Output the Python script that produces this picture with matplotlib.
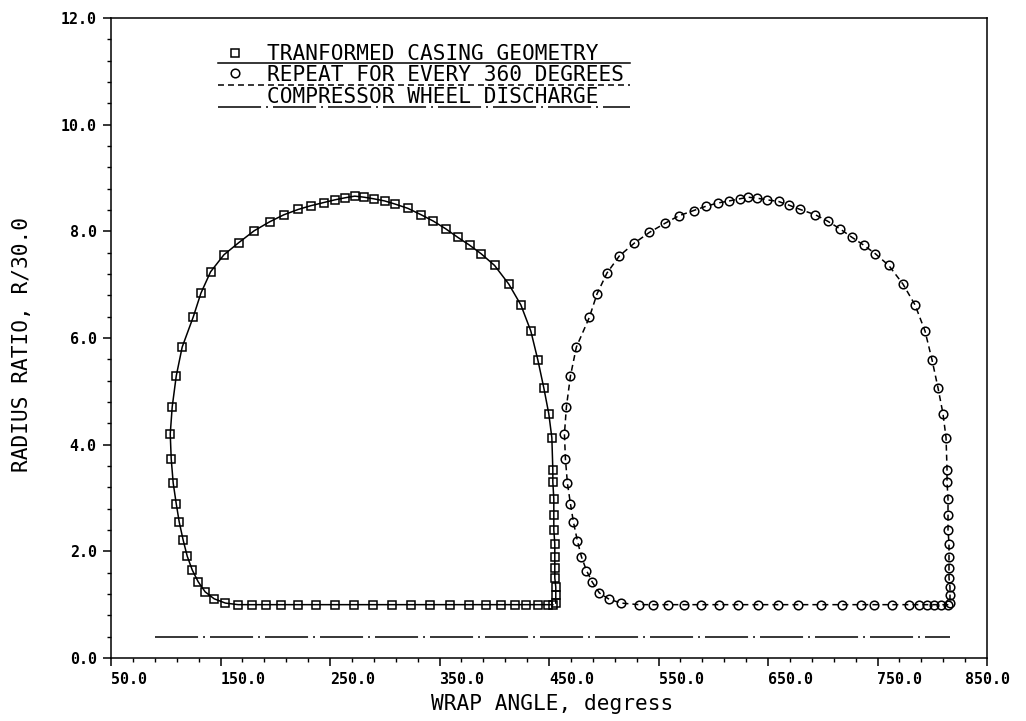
import matplotlib
matplotlib.use("Agg")
import matplotlib.pyplot as plt
from matplotlib.ticker import MultipleLocator, FormatStrFormatter, FixedLocator

plt.rcParams['lines.scale_dashes'] = False

# ---- data: transformed casing geometry (squares) ----
sq_x = [453.5, 448.9, 439.8, 428.8, 418.5, 406.1, 392.4, 376.6, 359.2, 341.0,
        323.9, 306.6, 289.3, 271.9, 254.6, 237.3, 220.8, 205.3, 191.7, 178.9, 166.1,
        154.4, 144.2, 136.0, 129.6, 124.2, 119.6, 115.9, 112.3, 109.6, 106.8,
        105.0, 104.1, 105.9, 109.6, 115.0,
        125.2, 132.1, 140.9, 153.1, 166.8, 180.7, 195.0, 207.8, 220.9, 232.4,
        244.3, 254.3, 264.0, 272.6, 281.1, 289.9, 299.9, 309.6, 321.2, 333.3,
        344.5, 355.5, 366.5, 377.5, 388.0, 400.3, 413.3, 424.3, 433.4, 439.8,
        445.3, 449.8, 452.6, 453.5, 453.5, 454.4, 454.4, 454.4, 455.3, 455.3,
        455.3, 455.3, 456.2, 456.2, 456.2]
sq_y = [1.0] * 21 + [
        1.03, 1.11, 1.24, 1.43, 1.65, 1.91, 2.21, 2.55, 2.89, 3.28,
        3.73, 4.20, 4.71, 5.29, 5.83,
        6.40, 6.84, 7.24, 7.56, 7.79, 8.01, 8.18, 8.31, 8.41, 8.48,
        8.54, 8.59, 8.63, 8.66, 8.64, 8.61, 8.57, 8.51, 8.43, 8.31,
        8.19, 8.05, 7.89, 7.74, 7.58, 7.36, 7.01, 6.62, 6.13, 5.59,
        5.06, 4.58, 4.13, 3.53, 3.30, 2.98, 2.68, 2.40, 2.14, 1.89,
        1.69, 1.50, 1.33, 1.18, 1.03]

# ---- data: repeat for every 360 degrees (circles) ----
ci_x = [814.7, 808.3, 801.9, 795.5, 787.9, 778.8, 763.6, 746.9, 734.7, 718.0,
        698.2, 677.6, 658.9, 640.5, 622.5, 605.0, 588.5, 573.0, 558.5, 545.0, 532.0,
        516.0, 505.0, 496.0, 489.6, 484.2, 479.6, 475.9, 472.3, 469.6, 466.8,
        465.0, 464.1, 465.9, 469.6, 475.0,
        486.9, 493.9, 503.0, 514.3, 528.0, 541.7, 555.9, 568.4, 582.1, 593.3,
        603.9, 614.6, 624.3, 631.9, 640.4, 649.5, 659.6, 669.3, 679.4, 693.3,
        704.5, 715.5, 726.5, 737.5, 748.0, 760.3, 773.3, 784.3, 793.4, 799.8,
        805.3, 809.8, 812.6, 813.5, 813.5, 814.4, 814.4, 814.4, 815.3, 815.3,
        815.3, 815.3, 816.2, 816.2, 816.2]
ci_y = [1.0] * 21 + [
        1.03, 1.10, 1.22, 1.42, 1.64, 1.90, 2.20, 2.55, 2.89, 3.28,
        3.73, 4.20, 4.71, 5.29, 5.83,
        6.39, 6.83, 7.22, 7.54, 7.78, 7.98, 8.15, 8.29, 8.39, 8.47,
        8.53, 8.57, 8.61, 8.64, 8.62, 8.59, 8.56, 8.49, 8.41, 8.31,
        8.19, 8.05, 7.89, 7.74, 7.58, 7.36, 7.01, 6.62, 6.13, 5.59,
        5.06, 4.58, 4.13, 3.53, 3.30, 2.98, 2.68, 2.40, 2.14, 1.89,
        1.69, 1.50, 1.33, 1.18, 1.03]

# ---- data: compressor wheel discharge ----
cw_x = [90.0, 816.0]
cw_y = [0.4, 0.4]

x_ticks = [50, 150, 250, 350, 450, 550, 650, 750, 850]
y_ticks = [0, 2, 4, 6, 8, 10, 12]

legend_labels = ["TRANFORMED CASING GEOMETRY",
                 "REPEAT FOR EVERY 360 DEGREES",
                 "COMPRESSOR WHEEL DISCHARGE"]

FONT = "DejaVu Sans Mono"
DASHED = (0, (4.3, 2.9))
DASHDOT = (0, (31.0, 3.6, 1.4, 3.6))

fig = plt.figure(figsize=(10.26, 7.21), dpi=100)
ax = fig.add_axes([111/1026, 1 - 658/721, 876/1026, 640/721])

lw = 1.1
ax.plot(sq_x, sq_y, color='black', lw=lw, ls='-', marker='s', ms=6.2,
        mfc='none', mec='black', mew=1.1)
ax.plot(ci_x, ci_y, color='black', lw=lw, ls=DASHED, marker='o', ms=6.2,
        mfc='none', mec='black', mew=1.1)
ax.plot(cw_x, cw_y, color='black', lw=lw, ls=DASHDOT)

ax.set_xlim(50, 850)
ax.set_ylim(0, 12)
ax.xaxis.set_major_locator(FixedLocator(x_ticks))
ax.xaxis.set_minor_locator(MultipleLocator(20, offset=10))
ax.yaxis.set_major_locator(FixedLocator(y_ticks))
ax.yaxis.set_minor_locator(MultipleLocator(0.4))
ax.xaxis.set_major_formatter(FormatStrFormatter('%.1f'))
ax.yaxis.set_major_formatter(FormatStrFormatter('%.1f'))
ax.tick_params(which='major', direction='out', length=5.8, width=1.1,
               labelsize=10.8, pad=4.5)
ax.tick_params(which='minor', direction='out', length=3.2, width=1.0)
ax.tick_params(axis='x', which='both', top=False)
ax.tick_params(axis='y', which='both', right=False)
for sp in ax.spines.values():
    sp.set_linewidth(1.1)
for lab in ax.get_xticklabels() + ax.get_yticklabels():
    lab.set_fontfamily(FONT)
    lab.set_fontweight('bold')
xl = ax.get_xticklabels()
for lab in xl:
    lab.set_ha('left')
xl[-1].set_ha('center')

fig.text(552/1026, 1 - 710/721, "WRAP ANGLE, degress", family=FONT,
         fontsize=15.2, ha='center', va='baseline')
fig.text(22/1026, 1 - 345/721, "RADIUS RATIO, R/30.0", family=FONT,
         fontsize=15.2, ha='center', va='center', rotation=90)

# ---- legend drawn as in the original plotter output ----
def fx(px):
    return (px - 111) / 876

def fy(py):
    return (658 - py) / 640

T = ax.transAxes
ax.plot([fx(235)], [fy(52.7)], transform=T, marker='s', ms=6.2, mfc='none',
        mec='black', mew=1.1, ls='none')
ax.plot([fx(235)], [fy(73.3)], transform=T, marker='o', ms=6.2, mfc='none',
        mec='black', mew=1.1, ls='none')
ax.plot([fx(218), fx(630)], [fy(63.3)] * 2, transform=T, color='black', lw=lw)
ax.plot([fx(218), fx(630)], [fy(85)] * 2, transform=T, color='black', lw=lw,
        ls=DASHED)
ax.plot([fx(218), fx(630)], [fy(107.3)] * 2, transform=T, color='black',
        lw=lw, ls=DASHDOT)
for lab, py in zip(legend_labels, [60.0, 80.7, 103.3]):
    ax.text(fx(266.7), fy(py), lab, transform=T, family=FONT, fontsize=15.2,
            ha='left', va='baseline')

fig.savefig("out.png", dpi=100)
